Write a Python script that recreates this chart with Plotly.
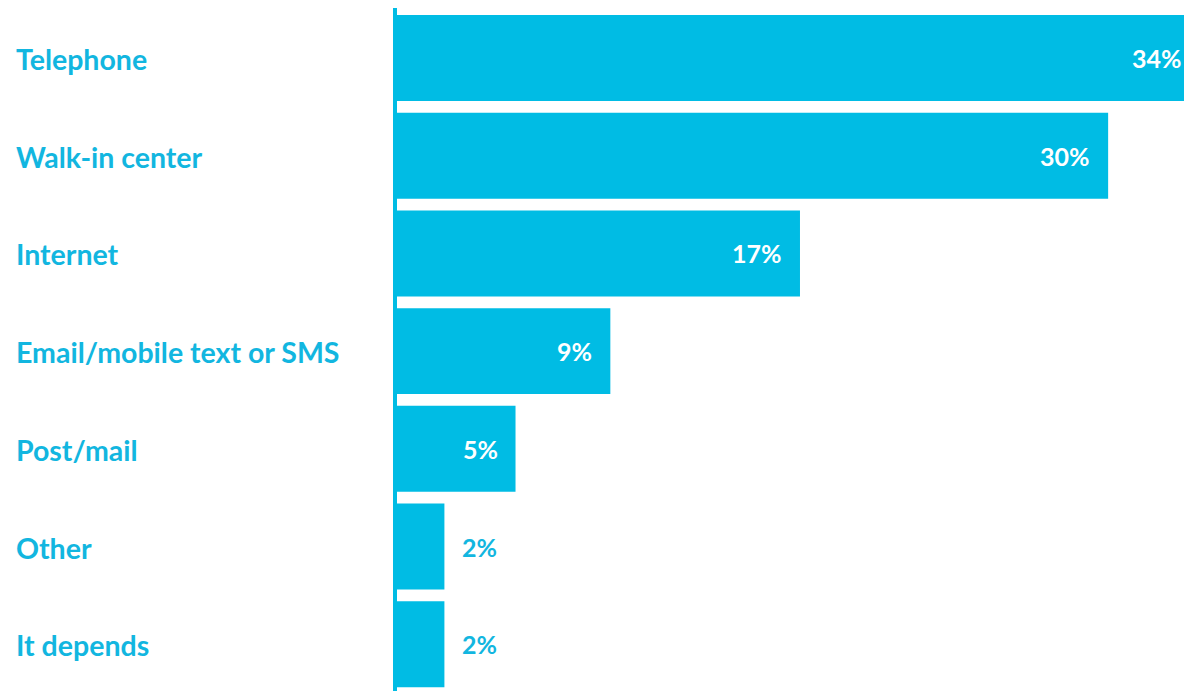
import plotly.graph_objects as go

categories = ["Telephone", "Walk-in center", "Internet", "Email/mobile text or SMS",
              "Post/mail", "Other", "It depends"]
values = [34, 30, 17, 9, 5, 2, 2]
value_labels = ["34%", "30%", "17%", "9%", "5%", "2%", "2%"]

BAR = "#00BCE4"
TXT = "#12B6E0"
XMAX = 33.2  # visible x-axis extent (the top bar runs past the right edge)
positions = list(range(len(categories)))

fig = go.Figure()
fig.add_trace(go.Bar(
    x=values, y=positions, orientation="h",
    marker=dict(color=BAR, line=dict(width=0)),
    width=0.88, hoverinfo="skip",
))

annotations = []
for i, (cat, v, lab) in enumerate(zip(categories, values, value_labels)):
    annotations.append(dict(
        xref="paper", yref="y", x=-383 / 787, y=i, text=cat,
        xanchor="left", yanchor="middle", showarrow=False, yshift=-1,
        font=dict(family="Lato", size=28.5, color=TXT, weight="bold"),
    ))
    inside = v >= 5
    clipped = v > XMAX
    annotations.append(dict(
        xref="x", yref="y", x=min(v, XMAX), y=i, text=lab,
        xanchor="right" if inside else "left", yanchor="middle",
        xshift=(0 if clipped else -16) if inside else 16, showarrow=False,
        font=dict(family="Lato", size=25, color="white" if inside else TXT, weight="bold"),
    ))

fig.update_layout(
    width=1184, height=691,
    margin=dict(l=397, r=0, t=8, b=0),
    paper_bgcolor="white", plot_bgcolor="white",
    showlegend=False,
    annotations=annotations,
    xaxis=dict(range=[0, XMAX], showgrid=False, zeroline=False,
               showticklabels=False, showline=False),
    yaxis=dict(range=[6.479, -0.512], showgrid=False, zeroline=False,
               showticklabels=False, showline=True, linecolor=BAR, linewidth=4, ticks=""),
)

fig.write_html("out.html")
